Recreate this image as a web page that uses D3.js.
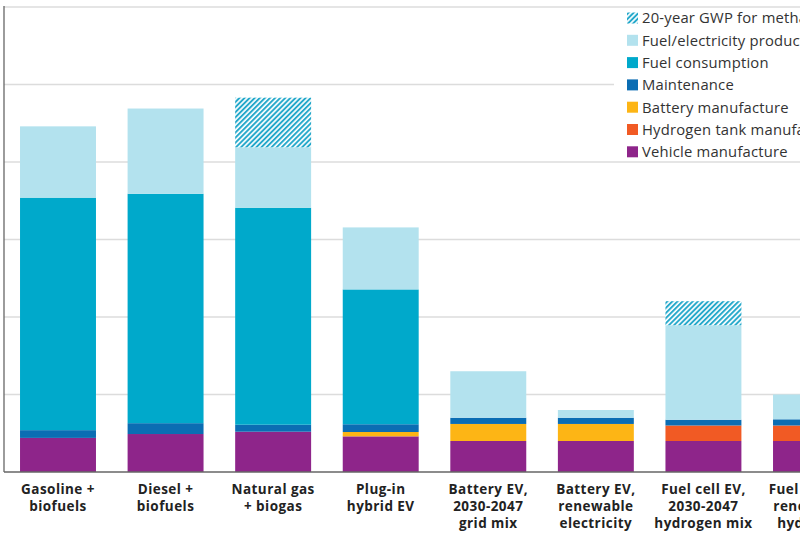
<!DOCTYPE html>
<html>
<head>
<meta charset="utf-8">
<script src="https://cdn.jsdelivr.net/npm/d3@7"></script>
<style>
  body { margin: 0; background: #fff; }
  svg { display: block; }
</style>
</head>
<body>
<div id="chart"></div>
<script>
// Chart data (g CO2e/km)
var categories = [
  ["Gasoline +", "biofuels"],
  ["Diesel +", "biofuels"],
  ["Natural gas", "+ biogas"],
  ["Plug-in", "hybrid EV"],
  ["Battery EV,", "2030-2047", "grid mix"],
  ["Battery EV,", "renewable", "electricity"],
  ["Fuel cell EV,", "2030-2047", "hydrogen mix"],
  ["Fuel cell EV,", "renewable", "hydrogen"]
];
var vehicleManufacture = [22, 24.5, 26, 23, 20, 20, 20, 20];
var hydrogenTank = [0, 0, 0, 0, 0, 0, 10, 10];
var batteryManufacture = [0, 0, 0, 2.8, 11, 11, 0, 0];
var maintenance = [5, 7, 4.5, 5, 4, 4, 3.7, 4];
var fuelConsumption = [150, 148, 140, 87, 0, 0, 0, 0];
var fuelProduction = [46, 55, 39, 40, 30, 5, 61, 16];
var methaneGWP20 = [0, 0, 32, 0, 0, 0, 15.5, 0];
var yTicks = [0, 50, 100, 150, 200, 250, 300];

var seriesKeys = ["vehicle", "h2tank", "battery", "maint", "fuelcons", "fuelprod", "gwp"];
var seriesNames = {
  gwp: "20-year GWP for methane",
  fuelprod: "Fuel/electricity production",
  fuelcons: "Fuel consumption",
  maint: "Maintenance",
  battery: "Battery manufacture",
  h2tank: "Hydrogen tank manufacture",
  vehicle: "Vehicle manufacture"
};
var colors = {
  vehicle: "#8e258a",
  h2tank: "#f15a24",
  battery: "#fdb515",
  maint: "#0b6db3",
  fuelcons: "#00a9cb",
  fuelprod: "#b3e2ee",
  gwp: "url(#hatch)"
};

var table = categories.map(function(c, i) {
  return {
    idx: i,
    vehicle: vehicleManufacture[i],
    h2tank: hydrogenTank[i],
    battery: batteryManufacture[i],
    maint: maintenance[i],
    fuelcons: fuelConsumption[i],
    fuelprod: fuelProduction[i],
    gwp: methaneGWP20[i]
  };
});

var svgWidth = 800, svgHeight = 533;
var svg = d3.select("#chart").append("svg")
  .attr("width", svgWidth)
  .attr("height", svgHeight);

// hatch pattern for the methane part
var defs = svg.append("defs");
var pat = defs.append("pattern")
  .attr("id", "hatch")
  .attr("patternUnits", "userSpaceOnUse")
  .attr("width", 3.6)
  .attr("height", 3.6)
  .attr("patternTransform", "rotate(45)");
pat.append("rect").attr("width", 3.6).attr("height", 3.6).attr("fill", "#fff");
pat.append("line")
  .attr("x1", 1).attr("y1", 0).attr("x2", 1).attr("y2", 3.6)
  .attr("stroke", "#1ea6c9").attr("stroke-width", 1.9);

var x = d3.scaleBand()
  .domain(d3.range(categories.length))
  .range([4, 865])
  .paddingInner(0.294)
  .paddingOuter(0.149);

var y = d3.scaleLinear()
  .domain([0, 300])
  .range([472, 7]);

// gridlines
svg.append("g").selectAll("line")
  .data(yTicks.slice(1))
  .enter().append("line")
  .attr("x1", 4).attr("x2", svgWidth)
  .attr("y1", function(d) { return y(d); })
  .attr("y2", function(d) { return y(d); })
  .attr("stroke", "#dcdcdc")
  .attr("stroke-width", 1.3);

// stacked bars
var stack = d3.stack().keys(seriesKeys);
var layers = stack(table);

svg.append("g").selectAll("g")
  .data(layers)
  .enter().append("g")
  .attr("fill", function(d) { return colors[d.key]; })
  .selectAll("rect")
  .data(function(d) { return d.filter(function(s) { return s[1] - s[0] > 0; }); })
  .enter().append("rect")
  .attr("x", function(d) { return x(d.data.idx); })
  .attr("width", x.bandwidth())
  .attr("y", function(d) { return y(d[1]); })
  .attr("height", function(d) { return y(d[0]) - y(d[1]); });

// axes lines
svg.append("line")
  .attr("x1", 4).attr("x2", 4).attr("y1", 6).attr("y2", 472)
  .attr("stroke", "#666").attr("stroke-width", 1.3);
svg.append("line")
  .attr("x1", 4).attr("x2", svgWidth).attr("y1", 472).attr("y2", 472)
  .attr("stroke", "#666").attr("stroke-width", 1.3);

// category labels
var lab = svg.append("g").selectAll("text")
  .data(categories)
  .enter().append("text")
  .attr("x", function(d, i) { return x(i) + x.bandwidth() / 2; })
  .attr("y", 494)
  .attr("text-anchor", "middle")
  .attr("font-family", "'Open Sans', sans-serif")
  .attr("font-weight", "bold")
  .attr("font-size", "13.5px")
  .attr("letter-spacing", "0.45px")
  .attr("fill", "#222");
lab.selectAll("tspan")
  .data(function(d) { return d; })
  .enter().append("tspan")
  .attr("x", function() { return d3.select(this.parentNode).attr("x"); })
  .attr("dy", function(d, i) { return i === 0 ? 0 : 17; })
  .text(function(d) { return d; });

// legend
var legendOrder = ["gwp", "fuelprod", "fuelcons", "maint", "battery", "h2tank", "vehicle"];
var legend = svg.append("g");
legend.append("rect")
  .attr("x", 614).attr("y", 10)
  .attr("width", 200).attr("height", 148)
  .attr("fill", "#fff");
var items = legend.selectAll("g.item")
  .data(legendOrder)
  .enter().append("g")
  .attr("class", "item")
  .attr("transform", function(d, i) { return "translate(627," + (18 + i * 22.3) + ")"; });
items.append("rect")
  .attr("x", 0).attr("y", -5.5)
  .attr("width", 11).attr("height", 11)
  .attr("fill", function(d) { return colors[d]; });
items.append("text")
  .attr("x", 15)
  .attr("dy", "0.36em")
  .attr("font-family", "'Open Sans', sans-serif")
  .attr("font-size", "14.8px")
  .attr("letter-spacing", "0.2px")
  .attr("fill", "#333")
  .text(function(d) { return seriesNames[d]; });
</script>
</body>
</html>
